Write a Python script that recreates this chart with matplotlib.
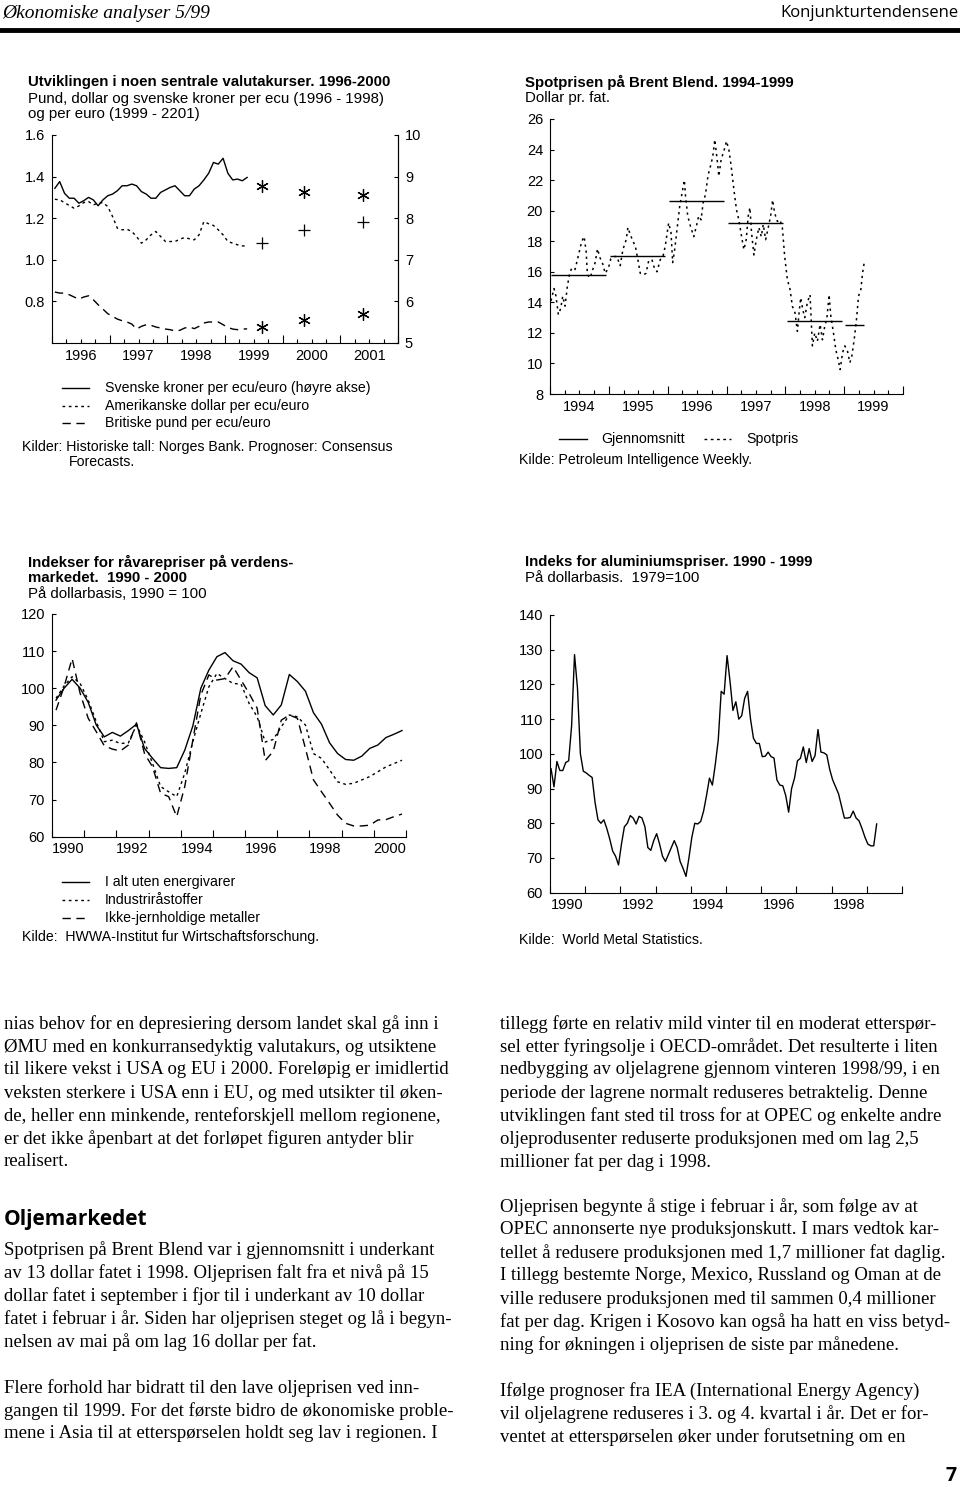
import numpy as np
import matplotlib
matplotlib.use("Agg")
import matplotlib.pyplot as plt
from matplotlib.lines import Line2D
from matplotlib.ticker import FixedLocator, FuncFormatter, FormatStrFormatter

plt.rcParams['font.family'] = ['Liberation Sans', 'DejaVu Sans']

# ---- data: valutakurser (monthly from Jan 1996) ----
sek = [8.72, 8.88, 8.60, 8.48, 8.48, 8.36, 8.42, 8.50, 8.44, 8.30, 8.44, 8.54,
       8.58, 8.66, 8.78, 8.78, 8.82, 8.78, 8.64, 8.58, 8.48, 8.48, 8.62, 8.68,
       8.74, 8.78, 8.66, 8.54, 8.54, 8.70, 8.78, 8.92, 9.08, 9.34, 9.30, 9.44,
       9.08, 8.92, 8.94, 8.90, 8.98]
usd = [1.291, 1.288, 1.275, 1.261, 1.248, 1.259, 1.275, 1.280, 1.264, 1.272, 1.275, 1.256,
       1.208, 1.152, 1.144, 1.147, 1.136, 1.112, 1.080, 1.096, 1.120, 1.136, 1.112, 1.088,
       1.088, 1.088, 1.099, 1.107, 1.101, 1.096, 1.120, 1.184, 1.173, 1.165, 1.144, 1.120,
       1.088, 1.080, 1.072, 1.067, 1.065]
gbp = [0.845, 0.840, 0.840, 0.832, 0.821, 0.811, 0.821, 0.827, 0.808, 0.784, 0.763, 0.741,
       0.728, 0.715, 0.707, 0.701, 0.691, 0.667, 0.680, 0.688, 0.685, 0.677, 0.672, 0.667,
       0.664, 0.658, 0.661, 0.672, 0.677, 0.669, 0.680, 0.696, 0.701, 0.701, 0.701, 0.688,
       0.675, 0.667, 0.664, 0.667, 0.668]
fc_t = [1999.64, 2000.37, 2001.39]
fc_sek = [8.78, 8.62, 8.56]
fc_usd = [1.083, 1.144, 1.182]
fc_gbp = [0.675, 0.712, 0.738]

# ---- data: Brent spot ----
spot_t = [1994.017, 1994.068, 1994.102, 1994.142, 1994.182, 1994.216, 1994.256, 1994.295,
          1994.330, 1994.369, 1994.426, 1994.466, 1994.500, 1994.540, 1994.580, 1994.614,
          1994.636, 1994.682, 1994.727, 1994.767, 1994.807, 1994.852, 1994.898, 1994.938,
          1994.994, 1995.034, 1995.080, 1995.136, 1995.193, 1995.239, 1995.295, 1995.324,
          1995.364, 1995.409, 1995.449, 1995.489, 1995.534, 1995.591, 1995.631, 1995.676,
          1995.733, 1995.773, 1995.818, 1995.875, 1995.920, 1995.960, 1996.017, 1996.057,
          1996.085, 1996.119, 1996.159, 1996.205, 1996.244, 1996.284, 1996.301, 1996.341,
          1996.386, 1996.443, 1996.489, 1996.528, 1996.568, 1996.602, 1996.642, 1996.688,
          1996.727, 1996.767, 1996.801, 1996.841, 1996.869, 1996.909, 1996.955, 1997.000,
          1997.040, 1997.080, 1997.125, 1997.170, 1997.210, 1997.250, 1997.295, 1997.335,
          1997.369, 1997.398, 1997.426, 1997.466, 1997.506, 1997.551, 1997.591, 1997.625,
          1997.665, 1997.710, 1997.750, 1997.784, 1997.818, 1997.864, 1997.909, 1997.949,
          1997.989, 1998.034, 1998.080, 1998.119, 1998.165, 1998.205, 1998.233, 1998.261,
          1998.295, 1998.330, 1998.375, 1998.420, 1998.460, 1998.500, 1998.545, 1998.591,
          1998.631, 1998.670, 1998.705, 1998.744, 1998.773, 1998.818, 1998.858, 1998.898,
          1998.932, 1998.972, 1999.011, 1999.057, 1999.097, 1999.131, 1999.170, 1999.210,
          1999.244, 1999.284, 1999.312, 1999.341]
spot_v = [14.1, 14.9, 14.4, 13.2, 13.6, 14.4, 13.75, 15.05,
          15.8, 16.25, 16.15, 16.8, 17.35, 18.0, 18.3, 17.35,
          15.8, 15.6, 16.15, 16.6, 17.5, 16.9, 16.5, 15.9,
          16.25, 16.85, 17.0, 17.0, 16.4, 17.45, 18.1, 18.9,
          18.45, 18.0, 17.7, 16.9, 15.9, 15.8, 15.9, 16.7,
          16.8, 16.25, 16.0, 16.8, 17.0, 17.7, 19.2, 18.55,
          16.6, 17.45, 18.75, 20.3, 21.15, 22.0, 21.05, 19.65,
          19.0, 18.3, 19.0, 19.65, 19.4, 20.5, 21.05, 22.35,
          22.9, 23.55, 24.65, 23.35, 22.25, 23.35, 23.9, 24.55,
          24.0, 22.9, 21.4, 20.05, 19.4, 18.45, 17.45, 18.1,
          19.65, 20.2, 18.55, 17.1, 18.1, 18.9, 18.3, 19.1,
          18.1, 18.9, 19.65, 20.7, 19.85, 19.3, 19.4, 18.9,
          17.0, 15.5, 14.85, 13.75, 13.3, 12.1, 13.3, 14.3,
          13.55, 13.0, 14.0, 14.5, 11.15, 12.0, 11.45, 12.55,
          11.55, 12.45, 12.9, 14.5, 13.1, 12.0, 10.9, 10.25,
          9.6, 10.7, 11.15, 10.8, 10.05, 10.5, 11.55, 12.9,
          14.4, 14.85, 15.9, 16.6]
avg_years = [1994, 1995, 1996, 1997, 1998, 1999]
avg_vals = [15.8, 17.0, 20.6, 19.2, 12.8, 12.5]

# ---- data: råvarepriser (quarterly from 1990Q1) ----
raw_total = [96.8, 100.0, 102.4, 100.0, 96.2, 90.1, 86.9, 88.1, 87.1, 88.6,
             90.3, 83.8, 81.1, 78.6, 78.4, 78.6, 83.3, 89.8, 100.0, 104.9,
             108.5, 109.6, 107.4, 106.5, 104.2, 102.8, 95.3, 92.8, 95.5, 103.7,
             101.8, 99.2, 93.4, 90.3, 85.3, 82.4, 80.8, 80.6, 81.7, 83.8,
             84.7, 86.7, 87.6, 88.6]
raw_ind = [97.3, 100.6, 103.1, 101.3, 96.8, 91.0, 85.6, 86.0, 85.1, 85.3,
           90.1, 85.6, 79.7, 73.5, 72.1, 70.8, 77.1, 85.6, 93.2, 100.4,
           104.0, 102.6, 101.3, 101.1, 95.9, 92.3, 85.5, 86.2, 89.6, 92.8,
           92.3, 90.1, 82.4, 81.1, 78.0, 74.8, 74.1, 74.4, 75.3, 76.2,
           77.5, 78.8, 79.7, 80.6]
raw_met = [94.1, 100.4, 108.0, 98.6, 91.9, 88.3, 84.5, 83.6, 83.1, 84.7,
           90.7, 82.4, 78.8, 71.7, 70.8, 65.4, 73.5, 86.0, 98.2, 103.6,
           102.2, 102.6, 105.8, 102.2, 98.6, 94.6, 80.5, 83.0, 91.4, 92.8,
           91.9, 83.8, 75.3, 72.1, 69.0, 65.8, 63.6, 62.9, 62.9, 63.1,
           64.5, 64.6, 65.4, 66.1]

# ---- data: aluminium (monthly from Jan 1990) ----
alu = [95.7, 90.5, 97.8, 95.2, 95.2, 97.5, 98.0, 108, 128.6, 119, 100, 95,
       94.5, 93.8, 93.2, 86, 81, 80, 81, 78.5, 75.5, 72, 70.5, 68,
       74, 79, 80, 82.2, 81.5, 79.8, 82, 81.5, 79, 73, 72.2, 75,
       77, 74, 70.5, 69, 71, 73, 75, 73, 69, 67, 64.7, 70,
       76, 80, 79.8, 80.5, 83.5, 88, 93, 91, 97, 104, 118, 117.2,
       128.3, 121, 112.5, 115, 110, 111, 116, 118, 110, 104.5, 103, 103,
       99.2, 99.3, 100.5, 99.2, 98.8, 92.5, 91, 90.8, 88, 83.2, 90, 93,
       98, 98.7, 102, 97.5, 101.5, 97.8, 99.5, 107, 100.5, 100.3, 99.7, 95.5,
       92.5, 90.5, 88.5, 85, 81.5, 81.5, 81.7, 83.5, 81.5, 80.7, 78.5, 76,
       74, 73.5, 73.5, 79.8]

W, H = 960, 1495
fig = plt.figure(figsize=(W / 100, H / 100), dpi=100)

TITLE = 10.8
TICK = 10.5
LEG = 10.2


def box(x0, y0, x1, y1):
    return [x0 / W, 1 - y1 / H, (x1 - x0) / W, (y1 - y0) / H]


def ftext(x, y, s, **kw):
    kw.setdefault('va', 'center')
    fig.text(x / W, 1 - y / H, s, **kw)


def fline(x0, x1, y, lw=1.0, **kw):
    fig.add_artist(Line2D([x0 / W, x1 / W], [1 - y / H, 1 - y / H],
                          transform=fig.transFigure, color='black', lw=lw, **kw))


def style(ax, right=False):
    ax.spines['top'].set_visible(False)
    ax.spines['right'].set_visible(right)
    for s in ax.spines.values():
        s.set_linewidth(0.8)
    ax.tick_params(axis='y', direction='in', length=3, width=0.8, pad=5, labelsize=TICK)
    ax.tick_params(axis='x', which='both', direction='in', width=0.8, labelsize=TICK, pad=4)
    ax.patch.set_alpha(0)


def year_labels(step):
    def f(x, pos):
        if abs(x % 1 - 0.5) < 1e-6 and int(x) % step == 0:
            return str(int(x))
        return ''
    return FuncFormatter(f)


dot = (0, (2, 2.5))
dash = (0, (6, 4))

# ---- header ----
ftext(2, 13, 'Økonomiske analyser 5/99', family='Liberation Serif', style='italic', fontsize=14)
ftext(958, 13, 'Konjunkturtendensene', family='Open Sans', fontsize=12, ha='right')
fline(0, 960, 30, lw=3.5)

# ---- chart 1: valutakurser ----
ax1 = fig.add_axes(box(52, 135, 398, 343))
style(ax1, right=True)
t1 = 1996.05 + np.arange(len(sek)) / 12
ax1.plot(t1, usd, color='black', lw=1.0, ls=dot)
ax1.plot(t1, gbp, color='black', lw=1.0, ls=dash)
ax1.plot(fc_t, fc_usd, ls='none', marker='+', ms=8, mew=0.9, color='black')
ax1.plot(fc_t, fc_gbp, ls='none', marker=(6, 2, 0), ms=9, mew=0.9, color='black')
ax1.set_xlim(1996, 2002)
ax1.set_ylim(0.6, 1.6)
ax1.set_yticks([0.8, 1.0, 1.2, 1.4, 1.6])
ax1.yaxis.set_major_formatter(FormatStrFormatter('%.1f'))
ax1.xaxis.set_major_locator(FixedLocator(np.arange(1996, 2003)))
ax1.xaxis.set_minor_locator(FixedLocator(np.arange(1996, 2002, 0.25)))
ax1.xaxis.set_major_formatter(FuncFormatter(lambda x, p: ''))
ax1.xaxis.set_minor_formatter(year_labels(1))
ax1.tick_params(axis='x', which='major', length=6)
ax1.tick_params(axis='x', which='minor', length=3)
ax1b = ax1.twinx()
for k in ['top', 'left', 'bottom']:
    ax1b.spines[k].set_visible(False)
ax1b.spines['right'].set_linewidth(0.8)
ax1b.plot(t1, sek, color='black', lw=1.0)
ax1b.plot(fc_t, fc_sek, ls='none', marker=(6, 2, 0), ms=9, mew=0.9, color='black')
ax1b.set_ylim(5, 10)
ax1b.set_yticks(range(5, 11))
ax1b.tick_params(axis='y', direction='in', length=3, width=0.8, pad=5, labelsize=TICK)

ftext(28, 82, 'Utviklingen i noen sentrale valutakurser. 1996-2000', fontsize=TITLE, weight='bold')
ftext(28, 99, 'Pund, dollar og svenske kroner per ecu (1996 - 1998)', fontsize=TITLE)
ftext(28, 114, 'og per euro (1999 - 2201)', fontsize=TITLE)
fline(62, 89, 388)
fline(62, 89, 406, ls=dot)
fline(62, 89, 423, ls=dash)
ftext(105, 388, 'Svenske kroner per ecu/euro (høyre akse)', fontsize=LEG)
ftext(105, 406, 'Amerikanske dollar per ecu/euro', fontsize=LEG)
ftext(105, 423, 'Britiske pund per ecu/euro', fontsize=LEG)
ftext(22, 447, 'Kilder: Historiske tall: Norges Bank. Prognoser: Consensus', fontsize=LEG)
ftext(69, 462, 'Forecasts.', fontsize=LEG)

# ---- chart 2: Brent ----
ax2 = fig.add_axes(box(550, 119, 903, 394))
style(ax2)
ax2.plot(spot_t, spot_v, color='black', lw=1.1, ls=(0, (1.5, 2.5)))
for y, v in zip(avg_years, avg_vals):
    ax2.hlines(v, y + 0.02, min(y + 0.96, max(spot_t)), color='black', lw=1.0)
ax2.set_xlim(1994, 2000)
ax2.set_ylim(8, 26)
ax2.set_yticks(range(8, 27, 2))
ax2.xaxis.set_major_locator(FixedLocator(np.arange(1994, 2001)))
ax2.xaxis.set_minor_locator(FixedLocator(np.arange(1994, 2000, 0.25)))
ax2.xaxis.set_major_formatter(FuncFormatter(lambda x, p: ''))
ax2.xaxis.set_minor_formatter(year_labels(1))
ax2.tick_params(axis='x', which='major', length=6)
ax2.tick_params(axis='x', which='minor', length=3)
ftext(525, 82, 'Spotprisen på Brent Blend. 1994-1999', fontsize=TITLE, weight='bold')
ftext(525, 98, 'Dollar pr. fat.', fontsize=TITLE)
fline(559, 587, 439)
ftext(601, 439, 'Gjennomsnitt', fontsize=LEG)
fline(704, 731, 439, ls=dot)
ftext(746, 439, 'Spotpris', fontsize=LEG)
ftext(519, 460, 'Kilde: Petroleum Intelligence Weekly.', fontsize=LEG)

# ---- chart 3: råvarepriser ----
ax3 = fig.add_axes(box(52, 614, 406, 836.7))
style(ax3)
t3 = 1990.125 + 0.25 * np.arange(len(raw_total))
ax3.plot(t3, raw_total, color='black', lw=1.0)
ax3.plot(t3, raw_ind, color='black', lw=1.0, ls=dot)
ax3.plot(t3, raw_met, color='black', lw=1.0, ls=dash)
ax3.set_xlim(1990, 2001)
ax3.set_ylim(60, 120)
ax3.set_yticks(range(60, 121, 10))
ax3.xaxis.set_major_locator(FixedLocator(np.arange(1990, 2002)))
ax3.xaxis.set_minor_locator(FixedLocator(np.arange(1990.5, 2001, 1)))
ax3.xaxis.set_major_formatter(FuncFormatter(lambda x, p: ''))
ax3.xaxis.set_minor_formatter(year_labels(2))
ax3.tick_params(axis='x', which='major', length=5)
ax3.tick_params(axis='x', which='minor', length=0)
ftext(28, 562, 'Indekser for råvarepriser på verdens-', fontsize=TITLE, weight='bold')
ftext(28, 578, 'markedet.  1990 - 2000', fontsize=TITLE, weight='bold')
ftext(28, 594, 'På dollarbasis, 1990 = 100', fontsize=TITLE)
fline(62, 89, 882)
fline(62, 89, 900, ls=dot)
fline(62, 89, 918, ls=dash)
ftext(105, 882, 'I alt uten energivarer', fontsize=LEG)
ftext(105, 900, 'Industriråstoffer', fontsize=LEG)
ftext(105, 918, 'Ikke-jernholdige metaller', fontsize=LEG)
ftext(22, 937, 'Kilde:  HWWA-Institut fur Wirtschaftsforschung.', fontsize=LEG)

# ---- chart 4: aluminium ----
ax4 = fig.add_axes(box(550, 615, 902, 892.7))
style(ax4)
t4 = 1990.03 + np.arange(len(alu)) / 12
ax4.plot(t4, alu, color='black', lw=1.0)
ax4.set_xlim(1990, 2000)
ax4.set_ylim(60, 140)
ax4.set_yticks(range(60, 141, 10))
ax4.xaxis.set_major_locator(FixedLocator(np.arange(1990, 2001)))
ax4.xaxis.set_minor_locator(FixedLocator(np.arange(1990.5, 2000, 1)))
ax4.xaxis.set_major_formatter(FuncFormatter(lambda x, p: ''))
ax4.xaxis.set_minor_formatter(year_labels(2))
ax4.tick_params(axis='x', which='major', length=5)
ax4.tick_params(axis='x', which='minor', length=0)
ftext(525, 562, 'Indeks for aluminiumspriser. 1990 - 1999', fontsize=TITLE, weight='bold')
ftext(525, 578, 'På dollarbasis.  1979=100', fontsize=TITLE)
ftext(519, 940, 'Kilde:  World Metal Statistics.', fontsize=LEG)

# ---- body text ----
serif = dict(family='Liberation Serif', fontsize=13.5)
left_p1 = ['nias behov for en depresiering dersom landet skal gå inn i',
           'ØMU med en konkurransedyktig valutakurs, og utsiktene',
           'til likere vekst i USA og EU i 2000. Foreløpig er imidlertid',
           'veksten sterkere i USA enn i EU, og med utsikter til øken-',
           'de, heller enn minkende, renteforskjell mellom regionene,',
           'er det ikke åpenbart at det forløpet figuren antyder blir',
           'realisert.']
left_p2 = ['Spotprisen på Brent Blend var i gjennomsnitt i underkant',
           'av 13 dollar fatet i 1998. Oljeprisen falt fra et nivå på 15',
           'dollar fatet i september i fjor til i underkant av 10 dollar',
           'fatet i februar i år. Siden har oljeprisen steget og lå i begyn-',
           'nelsen av mai på om lag 16 dollar per fat.']
left_p3 = ['Flere forhold har bidratt til den lave oljeprisen ved inn-',
           'gangen til 1999. For det første bidro de økonomiske proble-',
           'mene i Asia til at etterspørselen holdt seg lav i regionen. I']
right_p1 = ['tillegg førte en relativ mild vinter til en moderat etterspør-',
            'sel etter fyringsolje i OECD-området. Det resulterte i liten',
            'nedbygging av oljelagrene gjennom vinteren 1998/99, i en',
            'periode der lagrene normalt reduseres betraktelig. Denne',
            'utviklingen fant sted til tross for at OPEC og enkelte andre',
            'oljeprodusenter reduserte produksjonen med om lag 2,5',
            'millioner fat per dag i 1998.']
right_p2 = ['Oljeprisen begynte å stige i februar i år, som følge av at',
            'OPEC annonserte nye produksjonskutt. I mars vedtok kar-',
            'tellet å redusere produksjonen med 1,7 millioner fat daglig.',
            'I tillegg bestemte Norge, Mexico, Russland og Oman at de',
            'ville redusere produksjonen med til sammen 0,4 millioner',
            'fat per dag. Krigen i Kosovo kan også ha hatt en viss betyd-',
            'ning for økningen i oljeprisen de siste par månedene.']
right_p3 = ['Ifølge prognoser fra IEA (International Energy Agency)',
            'vil oljelagrene reduseres i 3. og 4. kvartal i år. Det er for-',
            'ventet at etterspørselen øker under forutsetning om en']

for x, y0, lines in [(4, 1024, left_p1), (4, 1250, left_p2), (4, 1388, left_p3),
                     (500, 1024, right_p1), (500, 1207, right_p2), (500, 1391, right_p3)]:
    for i, s in enumerate(lines):
        ftext(x, y0 + 23 * i, s, **serif)

ftext(4, 1220, 'Oljemarkedet', family='Open Sans', weight='bold', fontsize=15)
ftext(957, 1476, '7', family='Open Sans', weight='bold', fontsize=14, ha='right')

fig.savefig('out.png', dpi=100)
